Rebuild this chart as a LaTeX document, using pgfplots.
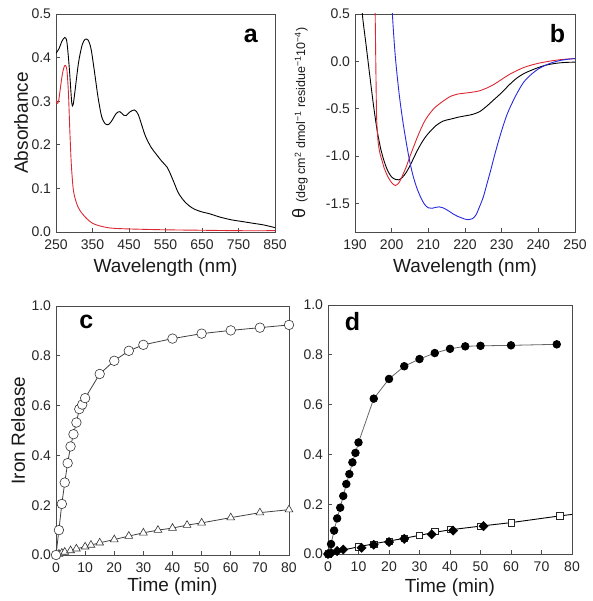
\documentclass[border=0pt]{standalone}
\usepackage{fontspec}
\setmainfont{Liberation Sans}
\usepackage{pgfplots}
\pgfplotsset{compat=1.18}
\definecolor{myred}{RGB}{220,40,50}
\definecolor{myblue}{RGB}{40,40,225}
\definecolor{frm}{RGB}{75,75,75}
\pgfplotsset{
  base/.style={scale only axis,
    axis line style={frm, line width=0.9pt},
    tick style={frm, line width=0.8pt},
    tick align=inside, tick pos=left, major tick length=4pt,
    /pgf/number format/assume math mode=true,
    tick label style={font=\fontsize{14}{14}\selectfont, text=black!85},
    xticklabel style={yshift=-4pt},
    yticklabel style={xshift=-1.5pt},
    label style={font=\fontsize{19}{19}\selectfont, text=black!90},
  },
  fix1/.style={yticklabel style={/pgf/number format/.cd, fixed, fixed zerofill, precision=1}},
}
\begin{document}
\begin{tikzpicture}[x=1pt,y=1pt]
\useasboundingbox (0,0) rectangle (592,601);
% ---------------- panel a
\begin{axis}[base, fix1, at={(56pt,369pt)}, anchor=south west, width=219pt, height=218pt,
  xmin=250, xmax=850, ymin=0, ymax=0.5,
  xtick={250,350,...,850}, ytick={0,0.1,0.2,0.3,0.4,0.5},
  xlabel={Wavelength (nm)}, ylabel={Absorbance},
  xlabel style={at={(axis description cs:0.5,-0.165)}, anchor=center},
  ylabel style={at={(axis description cs:-0.16,0.5)}, anchor=center},
  ]
\addplot[black, line width=0.9pt, smooth, tension=0.5] coordinates {
(250,0.41)(258,0.42)(266,0.437)(274,0.446)(280,0.435)(287,0.37)(293,0.298)(297,0.292)(303,0.33)(312,0.39)(322,0.43)(330,0.442)(338,0.44)(346,0.42)(355,0.37)(365,0.31)(375,0.265)(385,0.248)(395,0.247)(405,0.258)(415,0.272)(425,0.276)(435,0.268)(442,0.267)(452,0.275)(465,0.28)(475,0.27)(485,0.245)(495,0.22)(510,0.195)(525,0.178)(540,0.162)(555,0.148)(565,0.13)(575,0.11)(585,0.09)(600,0.072)(615,0.06)(630,0.052)(650,0.046)(670,0.042)(700,0.034)(730,0.028)(760,0.024)(790,0.02)(820,0.016)(850,0.01)};
\addplot[myred, line width=0.9pt, smooth, tension=0.5] coordinates {
(250,0.305)(253,0.295)(257,0.30)(262,0.33)(267,0.36)(272,0.378)(276,0.382)(280,0.37)(284,0.32)(288,0.23)(292,0.155)(297,0.1)(303,0.075)(310,0.058)(320,0.044)(335,0.03)(350,0.02)(370,0.014)(400,0.009)(450,0.007)(550,0.005)(650,0.004)(750,0.003)(850,0.003)};
\node[font=\fontsize{25}{25}\selectfont\bfseries] at (rel axis cs:0.89,0.9) {a};
\end{axis}
% ---------------- panel b
\begin{axis}[base, fix1, at={(355pt,369pt)}, anchor=south west, width=220pt, height=218pt,
  xmin=190, xmax=250, ymin=-1.8, ymax=0.5,
  xtick={190,200,...,250}, ytick={-1.5,-1,-0.5,0,0.5},
  xlabel={Wavelength (nm)},
  ylabel={{\fontsize{18}{18}\selectfont θ} {\fontsize{12.5}{12.5}\selectfont(deg cm\textsuperscript{2} dmol\textsuperscript{−1} residue\textsuperscript{−1}10\textsuperscript{−4})}},
  xlabel style={at={(axis description cs:0.5,-0.165)}, anchor=center},
  ylabel style={at={(axis description cs:-0.25,0.5)}, anchor=center},
  ]
\addplot[black, line width=0.9pt, smooth, tension=0.5] coordinates {
(191.3,0.9)(192,0.5)(193,0.18)(194,-0.14)(195,-0.45)(196,-0.72)(197,-0.92)(198,-1.06)(199,-1.16)(200,-1.22)(201,-1.245)(202,-1.25)(203,-1.22)(204,-1.17)(205,-1.1)(206,-1.02)(207,-0.94)(208,-0.87)(209,-0.81)(210,-0.76)(212,-0.68)(214,-0.63)(216,-0.61)(218,-0.59)(220,-0.575)(222,-0.56)(224,-0.53)(226,-0.47)(228,-0.4)(230,-0.33)(232,-0.25)(234,-0.18)(236,-0.13)(238,-0.095)(240,-0.065)(242,-0.04)(244,-0.025)(246,-0.015)(248,-0.01)(250,-0.008)};
\addplot[myred, line width=0.9pt, smooth, tension=0.4] coordinates {
(195.3,0.9)(195.5,0.5)(195.7,-0.1)(195.9,-0.6)(196.3,-0.85)(196.8,-0.97)(197.4,-1.05)(198,-1.13)(199,-1.22)(200,-1.28)(201,-1.31)(202,-1.28)(203,-1.2)(204,-1.11)(205,-1.0)(206,-0.9)(207,-0.8)(208,-0.71)(209,-0.63)(210,-0.57)(211,-0.52)(212,-0.48)(214,-0.42)(216,-0.37)(218,-0.345)(220,-0.335)(222,-0.325)(224,-0.31)(226,-0.28)(228,-0.24)(230,-0.19)(232,-0.14)(234,-0.1)(236,-0.065)(238,-0.04)(240,-0.02)(242,-0.005)(244,0.008)(246,0.018)(248,0.025)(250,0.03)};
\addplot[myblue, line width=0.9pt, smooth, tension=0.5] coordinates {
(199.9,0.9)(200.2,0.5)(201,0.05)(202,-0.33)(203,-0.62)(204,-0.86)(205,-1.07)(206,-1.23)(207,-1.35)(208,-1.44)(209,-1.51)(210,-1.545)(211,-1.55)(212,-1.54)(213,-1.535)(214,-1.545)(215,-1.565)(216,-1.59)(217,-1.615)(218,-1.635)(219,-1.65)(220,-1.665)(221,-1.67)(222,-1.66)(223,-1.62)(224,-1.53)(225,-1.43)(226,-1.29)(227,-1.15)(228,-1.0)(229,-0.86)(230,-0.73)(231,-0.61)(232,-0.51)(234,-0.35)(236,-0.22)(238,-0.14)(240,-0.08)(242,-0.04)(244,-0.01)(246,0.01)(248,0.022)(250,0.03)};
\node[font=\fontsize{25}{25}\selectfont\bfseries] at (rel axis cs:0.92,0.91) {b};
\end{axis}
% ---------------- panel c
\begin{axis}[base, fix1, at={(56pt,46pt)}, anchor=south west, width=233pt, height=249pt,
  xmin=0, xmax=80, ymin=0, ymax=1, clip=false,
  xtick={0,10,...,80}, ytick={0,0.2,...,1.0},
  xlabel={Time (min)}, ylabel={Iron Release},
  xlabel style={at={(axis description cs:0.5,-0.128)}, anchor=center},
  ylabel style={at={(axis description cs:-0.163,0.5)}, anchor=center},
  ]
\addplot[black!75, line width=0.8pt, mark=triangle*, mark size=4.5pt, mark options={fill=white, draw=black!80, line width=0.6pt}] coordinates {
(0,0)(1,0.004)(2,0.008)(3,0.012)(5,0.018)(7,0.025)(10,0.033)(12,0.04)(15,0.049)(20,0.062)(25,0.076)(30,0.089)(35,0.1)(40,0.108)(45,0.12)(50,0.129)(60,0.15)(70,0.17)(80,0.182)};
\addplot[black!75, line width=0.8pt, mark=*, mark size=4.8pt, mark options={fill=white, draw=black!80, line width=0.6pt}] coordinates {
(0,0)(1,0.10)(2,0.205)(3,0.291)(4,0.369)(5,0.436)(6,0.485)(7,0.532)(8,0.586)(9,0.604)(10,0.63)(15,0.727)(20,0.78)(25,0.82)(30,0.844)(40,0.869)(50,0.889)(60,0.902)(70,0.913)(80,0.924)};
\node[font=\fontsize{25}{25}\selectfont\bfseries] at (rel axis cs:0.13,0.935) {c};
\end{axis}
% ---------------- panel d
\begin{axis}[base, fix1, at={(328pt,47pt)}, anchor=south west, width=244pt, height=249pt,
  xmin=0, xmax=80, ymin=0, ymax=1, clip=false,
  xtick={0,10,...,80}, ytick={0,0.2,...,1.0},
  xlabel={Time (min)},
  xlabel style={at={(axis description cs:0.5,-0.133)}, anchor=center},
  ]
\addplot[black!60, line width=0.8pt, mark=*, mark size=3.8pt, mark options={fill=black, draw=black}] coordinates {
(0,0)(1,0.04)(2,0.094)(3,0.143)(4,0.186)(5,0.233)(6,0.281)(7,0.321)(8,0.368)(9,0.406)(10,0.448)(15,0.624)(20,0.703)(25,0.754)(30,0.783)(35,0.807)(40,0.824)(45,0.834)(50,0.836)(60,0.838)(75,0.842)};
\addplot[black, line width=0.9pt] coordinates {
(0,0)(5,0.016)(10,0.029)(15,0.041)(20,0.052)(25,0.063)(30,0.075)(35,0.087)(40,0.097)(50,0.112)(60,0.126)(76,0.153)(80,0.159)};
\addplot[only marks, mark=square*, mark size=3.2pt, mark options={fill=white, draw=black!85, line width=0.6pt}] coordinates {
(0,0)(10,0.029)(15,0.04)(20,0.052)(25,0.064)(30,0.076)(35,0.09)(40,0.099)(50,0.112)(60,0.126)(76,0.154)};
\addplot[only marks, mark=square*, mark size=3.3pt, mark options={fill=black, draw=black, rotate=45}] coordinates {
(0,0)(1,0.004)(3,0.012)(5,0.018)(11,0.025)(15,0.037)(20,0.048)(25,0.061)(34,0.079)(41,0.094)(51,0.112)};
\node[font=\fontsize{25}{25}\selectfont\bfseries] at (rel axis cs:0.1,0.935) {d};
\end{axis}
\end{tikzpicture}
\end{document}
